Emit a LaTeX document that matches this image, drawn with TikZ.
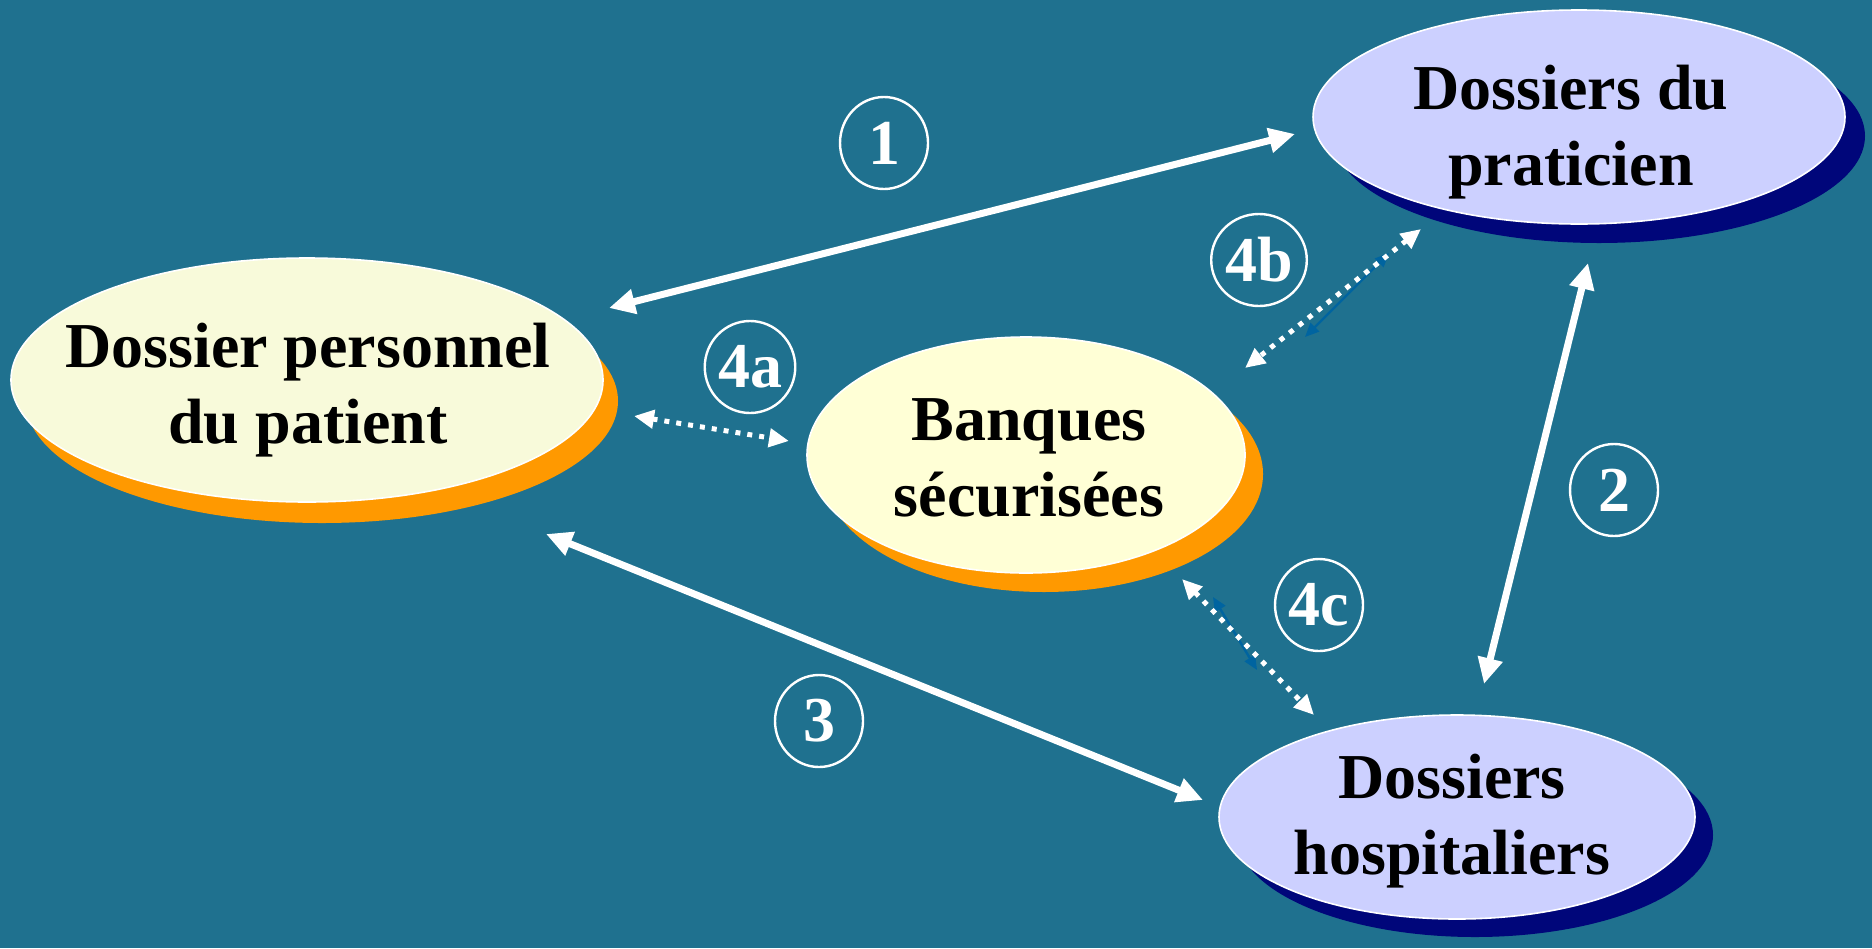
\documentclass[tikz,border=0pt]{standalone}
\usepackage{fontspec}
\setmainfont{Liberation Serif}
\usetikzlibrary{shapes.geometric,arrows.meta}
\definecolor{bgc}{RGB}{31,113,143}
\definecolor{creamA}{RGB}{248,250,218}
\definecolor{creamB}{RGB}{255,255,214}
\definecolor{lav}{RGB}{204,208,255}
\definecolor{orsh}{RGB}{255,153,0}
\definecolor{navysh}{RGB}{0,6,122}
\definecolor{arrblue}{RGB}{0,100,160}
\begin{document}
\begin{tikzpicture}[x=0.5pt,y=-0.5pt,
  bubble/.style={draw=white, line width=0.8pt},
  btext/.style={inner sep=0pt, align=center, text=black, text height=22pt, text depth=0pt,
    font=\fontsize{32}{38}\selectfont\bfseries},
  tag/.style={ellipse, draw=white, line width=1.2pt, inner sep=0pt, minimum width=44pt,
    minimum height=46pt, text=white, font=\fontsize{32}{38}\selectfont\bfseries},
  bigarrow/.style={white, line width=3.5pt,
    {Triangle[length=13pt,width=12pt]}-{Triangle[length=13pt,width=12pt]}},
  dotarrow/.style={white, line width=2.5pt, dash pattern=on 2.5pt off 3.5pt,
    {Triangle[length=10pt,width=9pt]}-{Triangle[length=10pt,width=9pt]}},
  thinarrow/.style={arrblue, line width=1.2pt,
    {Triangle[length=7pt,width=6pt]}-{Triangle[length=7pt,width=6pt]}}
]
\fill[bgc] (0,0) rectangle (1872,948);
\useasboundingbox (0,0) rectangle (1872,948);

% ellipse centres
\coordinate (cA) at (307,380);
\coordinate (cB) at (1026,455);
\coordinate (cC) at (1457,817);
\coordinate (cD) at (1579,117);

% shadows
\fill[orsh] ([shift={(15,21)}]cA) ellipse [x radius=296, y radius=122];
\fill[orsh] ([shift={(18,19)}]cB) ellipse [x radius=219, y radius=118];
\fill[navysh] ([shift={(18,18)}]cC) ellipse [x radius=238, y radius=102];
\fill[navysh] ([shift={(20,19)}]cD) ellipse [x radius=266, y radius=107];

% ellipses
\filldraw[bubble, fill=creamA] (cA) ellipse [x radius=296, y radius=122];
\filldraw[bubble, fill=creamB] (cB) ellipse [x radius=219, y radius=118];
\filldraw[bubble, fill=lav] (cC) ellipse [x radius=238, y radius=102];
\filldraw[bubble, fill=lav] (cD) ellipse [x radius=266, y radius=107];

% texts
\node[btext] (pat) at (308,421) {Dossier personnel\\du patient};
\node[btext] (ban) at (1029,494) {Banques\\sécurisées};
\node[btext] (hos) at (1452,852) {Dossiers\\hospitaliers};
\node[btext] (pra) at (1571,163) {Dossiers du\\praticien};

% labels
\node[tag] (l1) at (884,143) {1};
\node[tag] (l2) at (1614,490) {2};
\node[tag] (l3) at (819,721) {3};
\node[tag] (l4a) at (750,367) {4a};
\node[tag] (l4b) at (1259,260) {4b};
\node[tag] (l4c) at (1319,605) {4c};

% arrow ends
\coordinate (a1s) at (609,308);  \coordinate (a1e) at (1295,134);
\coordinate (a2s) at (1588,263); \coordinate (a2e) at (1484,684);
\coordinate (a3s) at (546,534);  \coordinate (a3e) at (1203,800);
\coordinate (d4as) at (634,416); \coordinate (d4ae) at (789,441);
\coordinate (d4bs) at (1421,229); \coordinate (d4be) at (1245,368);
\coordinate (b4bs) at (1389,253); \coordinate (b4be) at (1305,337);
\coordinate (d4cs) at (1182,579); \coordinate (d4ce) at (1314,715);
\coordinate (b4cs) at (1213,597); \coordinate (b4ce) at (1257,670);

\draw[bigarrow] (a1s) -- (a1e);
\draw[bigarrow] (a2s) -- (a2e);
\draw[bigarrow] (a3s) -- (a3e);

\draw[thinarrow] (b4bs) -- (b4be);
\draw[thinarrow] (b4cs) -- (b4ce);
\draw[dotarrow] (d4as) -- (d4ae);
\draw[dotarrow] (d4bs) -- (d4be);
\draw[dotarrow] (d4cs) -- (d4ce);
\end{tikzpicture}
\end{document}
